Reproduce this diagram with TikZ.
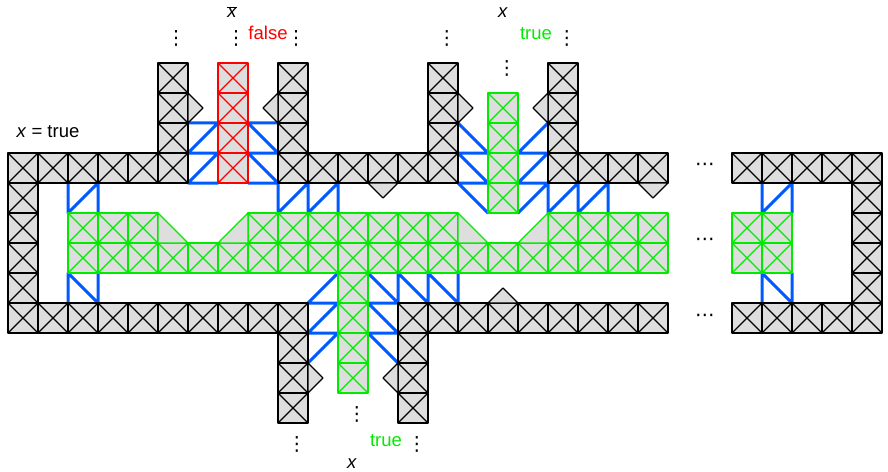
\documentclass[tikz,border=0pt]{standalone}
\usepackage{fontspec}
\setmainfont{Liberation Sans}
\newfontfamily\dejavu{DejaVu Sans}
\definecolor{cellfill}{RGB}{222,222,222}
\definecolor{myblue}{RGB}{0,90,255}
\definecolor{mygreen}{RGB}{0,235,0}
\definecolor{myred}{RGB}{255,0,0}
\tikzset{
  blk/.style={draw=black, line width=1.2pt},
  grn/.style={draw=mygreen, line width=1.2pt},
  rd/.style={draw=myred, line width=1.2pt},
  bl/.style={draw=myblue, line width=3pt, line cap=round},
  lbl/.style={font=\fontsize{18.5}{22}\selectfont, inner sep=0pt},
  dts/.style={font=\dejavu\fontsize{19.5}{22}\selectfont, inner sep=0pt, anchor=center},
}
\newcommand\xcell[3]{\filldraw[#3, fill=cellfill] (#1,#2) rectangle ++(1,1);
  \draw[#3] (#1,#2) -- ++(1,1) ++(0,-1) -- ++(-1,1);}
\begin{document}
\begin{tikzpicture}[x=30pt,y=-30pt,line join=round]
\useasboundingbox (-0.26667,-5.1) rectangle (29.33333,10.6);
% blue connectors
\draw[bl] (6,-1)--(7,-1) (6,0)--(7,-1) (6,0)--(7,0) (6,1)--(7,0) (6,1)--(7,1)
 (8,-1)--(9,-1) (8,-1)--(9,0) (8,0)--(9,0) (8,0)--(9,1) (8,1)--(9,1)
 (2,1)--(2,2) (2,2)--(3,1) (3,1)--(3,2)
 (9,1)--(9,2) (9,2)--(10,1) (10,1)--(10,2) (10,2)--(11,1) (11,1)--(11,2)
 (15,-1)--(16,0) (15,0)--(16,0) (15,0)--(16,1) (15,1)--(16,1) (15,1)--(16,2)
 (17,0)--(18,-1) (17,0)--(18,0) (17,1)--(18,0) (17,1)--(18,1) (17,2)--(18,1)
 (18,1)--(18,2) (18,2)--(19,1) (19,1)--(19,2) (19,2)--(20,1) (20,1)--(20,2)
 (2,4)--(2,5) (2,4)--(3,5) (3,4)--(3,5)
 (10,5)--(11,4) (10,5)--(11,5) (10,6)--(11,5) (10,6)--(11,6) (10,7)--(11,6)
 (12,4)--(13,5) (12,5)--(13,5) (12,5)--(13,6) (12,6)--(13,6) (12,6)--(13,7)
 (13,4)--(13,5) (13,4)--(14,5) (14,4)--(14,5) (14,4)--(15,5) (15,4)--(15,5)
 (25.1333,1)--(25.1333,2) (25.1333,2)--(26.1333,1) (26.1333,1)--(26.1333,2)
 (25.1333,4)--(25.1333,5) (25.1333,4)--(26.1333,5) (26.1333,4)--(26.1333,5);
% gray frame
\foreach \cc in {0,...,5,9,10,11,12,13,14,18,19,20,21} {\xcell{\cc}{0}{blk}}
\foreach \cc in {0,...,9,13,14,15,16,17,18,19,20,21} {\xcell{\cc}{5}{blk}}
\foreach \rr in {1,...,4} {\xcell{0}{\rr}{blk}}
\foreach \cc in {0,...,4} {\xcell{24.1333+\cc}{0}{blk} \xcell{24.1333+\cc}{5}{blk}}
\foreach \rr in {1,...,4} {\xcell{28.1333}{\rr}{blk}}
% gadget columns
\foreach \rr in {-3,-2,-1} {\xcell{5}{\rr}{blk} \xcell{9}{\rr}{blk} \xcell{14}{\rr}{blk} \xcell{18}{\rr}{blk}}
\foreach \rr in {6,7,8} {\xcell{9}{\rr}{blk} \xcell{13}{\rr}{blk}}
% small gray triangles
\filldraw[blk, fill=cellfill] (6,-2) -- (6.5,-1.5) -- (6,-1) -- cycle;
\filldraw[blk, fill=cellfill] (9,-2) -- (8.5,-1.5) -- (9,-1) -- cycle;
\filldraw[blk, fill=cellfill] (15,-2) -- (15.5,-1.5) -- (15,-1) -- cycle;
\filldraw[blk, fill=cellfill] (18,-2) -- (17.5,-1.5) -- (18,-1) -- cycle;
\filldraw[blk, fill=cellfill] (12,1) -- (12.5,1.5) -- (13,1) -- cycle;
\filldraw[blk, fill=cellfill] (21,1) -- (21.5,1.5) -- (22,1) -- cycle;
\filldraw[blk, fill=cellfill] (16,5) -- (16.5,4.5) -- (17,5) -- cycle;
\filldraw[blk, fill=cellfill] (10,7) -- (10.5,7.5) -- (10,8) -- cycle;
\filldraw[blk, fill=cellfill] (13,7) -- (12.5,7.5) -- (13,8) -- cycle;
% red column
\foreach \rr in {-3,...,0} {\xcell{7}{\rr}{rd}}
% green columns
\foreach \rr in {-2,...,1} {\xcell{16}{\rr}{grn}}
\foreach \rr in {4,...,7} {\xcell{11}{\rr}{grn}}
% green band
\foreach \cc in {2,3,4,8,9,10,11,12,13,14,18,19,20,21,24.1333,25.1333} {\xcell{\cc}{2}{grn} \xcell{\cc}{3}{grn}}
\foreach \cc in {5,6,7,15,16,17} {\xcell{\cc}{3}{grn}}
\filldraw[grn, fill=cellfill] (5,2) -- (5,3) -- (6,3) -- cycle;
\filldraw[grn, fill=cellfill] (7,3) -- (8,2) -- (8,3) -- cycle;
\filldraw[grn, fill=cellfill] (15,2) -- (15,3) -- (16,3) -- cycle;
\filldraw[grn, fill=cellfill] (17,3) -- (18,2) -- (18,3) -- cycle;
% labels
\node[lbl, anchor=base] (xeqtrue) at (1.333,-0.533) {\textit{x} = true};
\node[lbl, anchor=base] (xbar) at (7.47,-4.5) {$\overline{\textit{x}}$};
\node[lbl, anchor=base, text=myred] (false) at (8.667,-3.767) {false};
\node[lbl, anchor=base] (xtop) at (16.5,-4.533) {\textit{x}};
\node[lbl, anchor=base, text=mygreen] (truetop) at (17.6,-3.767) {true};
\node[lbl, anchor=base, text=mygreen] (truebot) at (12.6,9.77) {true};
\node[lbl, anchor=base] (xbot) at (11.47,10.5) {\textit{x}};
% vertical dots
\node[dts] (v1) at (5.6,-3.83) {⋮};
\node[dts] (v2) at (7.6,-3.83) {⋮};
\node[dts] (v3) at (9.6,-3.83) {⋮};
\node[dts] (v4) at (14.63,-3.83) {⋮};
\node[dts] (v5) at (18.63,-3.83) {⋮};
\node[dts] (v6) at (16.63,-2.83) {⋮};
\node[dts] (v7) at (11.63,8.73) {⋮};
\node[dts] (v8) at (9.63,9.73) {⋮};
\node[dts] (v9) at (13.63,9.73) {⋮};
% horizontal dots
\node[dts] (h1) at (23.23,0.47) {⋯};
\node[dts] (h2) at (23.23,2.97) {⋯};
\node[dts] (h3) at (23.23,5.5) {⋯};
\end{tikzpicture}
\end{document}
